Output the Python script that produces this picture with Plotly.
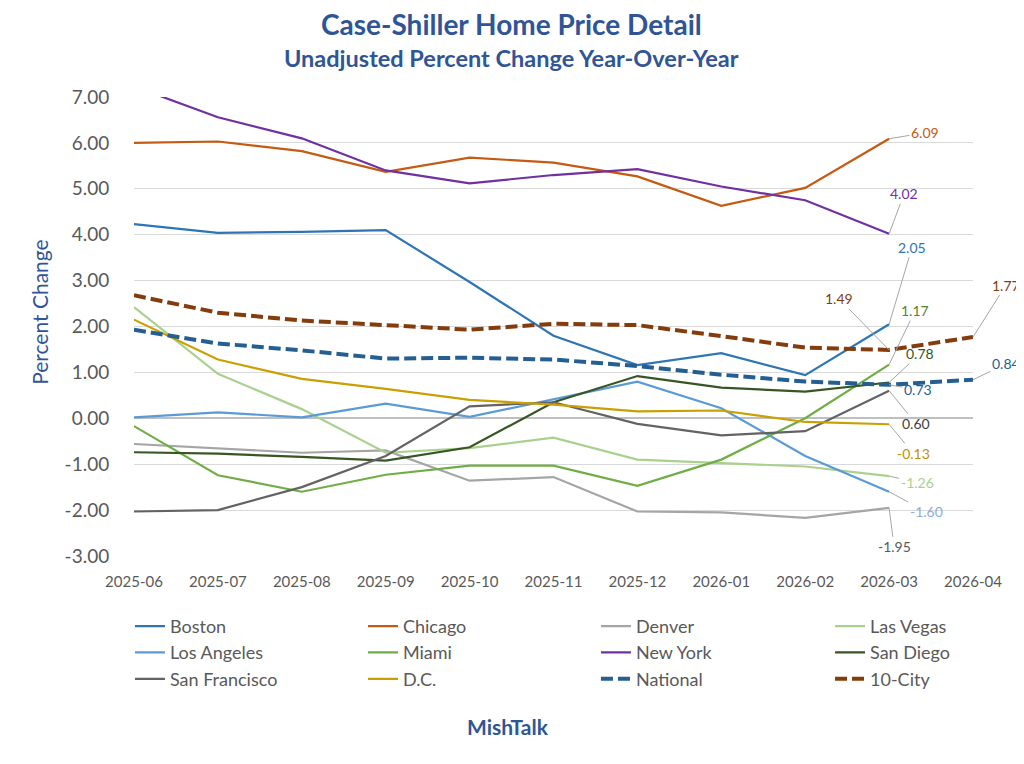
import plotly.graph_objects as go

months = ["2025-06", "2025-07", "2025-08", "2025-09", "2025-10", "2025-11",
          "2025-12", "2026-01", "2026-02", "2026-03", "2026-04"]

boston = [4.23, 4.04, 4.06, 4.10, 2.97, 1.80, 1.16, 1.42, 0.94, 2.05]
chicago = [6.00, 6.03, 5.82, 5.37, 5.68, 5.57, 5.27, 4.63, 5.02, 6.09]
denver = [-0.56, -0.65, -0.75, -0.70, -1.36, -1.28, -2.03, -2.05, -2.17, -1.95]
las_vegas = [2.42, 0.97, 0.20, -0.75, -0.65, -0.42, -0.90, -0.97, -1.05, -1.26]
los_angeles = [0.02, 0.13, 0.02, 0.32, 0.03, 0.42, 0.80, 0.22, -0.82, -1.60]
miami = [-0.17, -1.24, -1.60, -1.23, -1.03, -1.03, -1.47, -0.90, 0.00, 1.17]
new_york = [7.23, 6.56, 6.10, 5.40, 5.12, 5.30, 5.43, 5.05, 4.75, 4.02]
san_diego = [-0.74, -0.77, -0.84, -0.92, -0.63, 0.35, 0.92, 0.67, 0.58, 0.78]
san_francisco = [-2.03, -2.00, -1.50, -0.82, 0.26, 0.35, -0.12, -0.37, -0.28, 0.60]
dc = [2.15, 1.28, 0.86, 0.64, 0.40, 0.30, 0.15, 0.17, -0.08, -0.13]
national = [1.93, 1.63, 1.48, 1.30, 1.32, 1.28, 1.14, 0.95, 0.80, 0.73, 0.84]
ten_city = [2.68, 2.30, 2.13, 2.03, 1.93, 2.06, 2.03, 1.79, 1.54, 1.49, 1.77]

y_ticks = [7, 6, 5, 4, 3, 2, 1, 0, -1, -2, -3]
y_tick_labels = [f"{v:.2f}" for v in y_ticks]

# name, values, colour, dash, legend column
series = [
    ("Boston", boston, "#2E75B6", "solid", "legend"),
    ("Chicago", chicago, "#C55A11", "solid", "legend2"),
    ("Denver", denver, "#A5A5A5", "solid", "legend3"),
    ("Las Vegas", las_vegas, "#A9D18E", "solid", "legend4"),
    ("Los Angeles", los_angeles, "#5B9BD5", "solid", "legend"),
    ("Miami", miami, "#70AD47", "solid", "legend2"),
    ("New York", new_york, "#7030A0", "solid", "legend3"),
    ("San Diego", san_diego, "#375623", "solid", "legend4"),
    ("San Francisco", san_francisco, "#636363", "solid", "legend"),
    ("D.C.", dc, "#C9A000", "solid", "legend2"),
    ("National", national, "#255E91", "12px,5px", "legend3"),
    ("10-City", ten_city, "#843C0C", "12px,5px", "legend4"),
]

# label offsets (px) and text colour for the end-point data labels
label_offsets = {
    "Chicago": (36, -6, "#C55A11"),
    "New York": (15, -40, "#7030A0"),
    "Boston": (23, -77, "#2E75B6"),
    "10-City": (-50, -51, "#843C0C"),
    "Miami": (26, -54, "#548235"),
    "San Diego": (31, -29, "#375623"),
    "National": (29, 5, "#255E91"),
    "San Francisco": (27, 33, "#404040"),
    "D.C.": (24, 29, "#BF9000"),
    "Las Vegas": (28, 6, "#A9D18E"),
    "Los Angeles": (37, 20, "#8FAADC"),
    "Denver": (5, 39, "#595959"),
}
end_offsets = {
    "10-City": (33, -52, "#843C0C"),
    "National": (33, -16, "#255E91"),
}

fig = go.Figure()
for name, vals, color, dash, leg in series:
    fig.add_trace(go.Scatter(
        x=months[:len(vals)], y=vals, name=name, mode="lines", legend=leg,
        line=dict(color=color, width=4 if dash != "solid" else 2.2, dash=dash),
    ))

annotations = []
for name, vals, color, dash, leg in series:
    ax, ay, tcol = label_offsets[name]
    annotations.append(dict(
        x=months[9], y=vals[9], text=f"{vals[9]:.2f}", showarrow=True,
        arrowhead=0, arrowwidth=1, arrowcolor="#A6A6A6", ax=ax, ay=ay,
        font=dict(size=14, color=tcol), standoff=0,
    ))
    if name in end_offsets:
        ax, ay, tcol = end_offsets[name]
        annotations.append(dict(
            x=months[10], y=vals[10], text=f"{vals[10]:.2f}", showarrow=True,
            arrowhead=0, arrowwidth=1, arrowcolor="#A6A6A6", ax=ax, ay=ay,
            font=dict(size=14, color=tcol), standoff=0,
        ))

title_blue = "#2F5597"
annotations += [
    dict(text="<b>Case-Shiller Home Price Detail</b>", xref="paper", yref="paper",
         x=0.4505, y=1.159, xanchor="center", yanchor="middle", showarrow=False,
         font=dict(size=28, color=title_blue)),
    dict(text="<b>Unadjusted Percent Change Year-Over-Year</b>", xref="paper", yref="paper",
         x=0.4505, y=1.085, xanchor="center", yanchor="middle", showarrow=False,
         font=dict(size=23.5, color=title_blue)),
    dict(text="Percent Change", xref="paper", yref="paper", x=-0.112, y=0.532,
         xanchor="center", yanchor="middle", textangle=-90, showarrow=False,
         font=dict(size=21, color=title_blue)),
    dict(text="<b>MishTalk</b>", xref="paper", yref="paper", x=0.4458, y=-0.3725,
         xanchor="center", yanchor="middle", showarrow=False,
         font=dict(size=21, color=title_blue)),
]

legend_style = dict(orientation="v", xanchor="left", y=-0.113, yanchor="top",
                    font=dict(size=18, color="#595959"), bgcolor="rgba(0,0,0,0)",
                    tracegroupgap=0, itemwidth=30)

fig.update_layout(
    width=1024, height=764,
    paper_bgcolor="white", plot_bgcolor="white",
    margin=dict(l=126, r=59, t=89, b=216),
    font=dict(family="Lato", color="#595959"),
    xaxis=dict(
        type="category", categoryorder="array", categoryarray=months,
        range=[0, 10], showgrid=False, tickfont=dict(size=15, color="#595959"),
        ticks="outside", ticklen=12, tickcolor="rgba(0,0,0,0)",
        zeroline=False, showline=False,
    ),
    yaxis=dict(
        range=[-3, 7], tickvals=y_ticks, ticktext=y_tick_labels,
        gridcolor="#D9D9D9", gridwidth=1, zeroline=True, zerolinecolor="#BFBFBF",
        tickfont=dict(size=19, color="#595959"),
        ticks="outside", ticklen=20, tickcolor="rgba(0,0,0,0)",
    ),
    legend=dict(legend_style, x=-0.0048),
    legend2=dict(legend_style, x=0.2729),
    legend3=dict(legend_style, x=0.5506),
    legend4=dict(legend_style, x=0.8296),
    annotations=annotations,
    showlegend=True,
)

fig.write_html("out.html")
